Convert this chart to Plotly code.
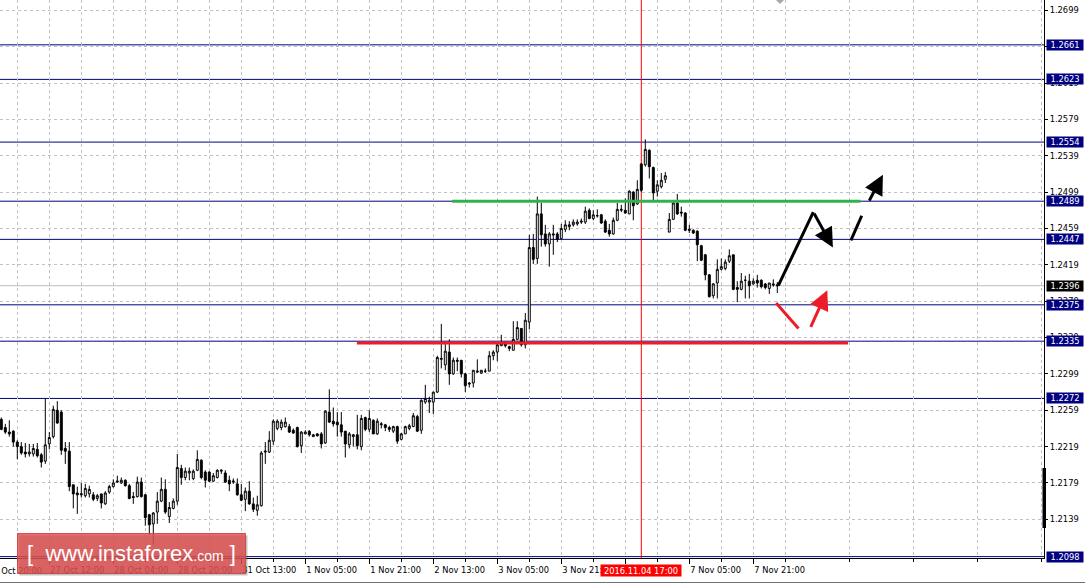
import plotly.graph_objects as go

# ---------------- data (H1 bars) ----------------
OPEN = [1.2249, 1.2240, 1.2235, 1.2236, 1.2224, 1.2219, 1.2213, 1.2211, 1.2211, 1.2216,
        1.2210, 1.2203, 1.2222, 1.2230, 1.2259, 1.2257, 1.2217, 1.2214, 1.2177, 1.2168,
        1.2166, 1.2165, 1.2167, 1.2166, 1.2162, 1.2167, 1.2156, 1.2169, 1.2175, 1.2180,
        1.2179, 1.2182, 1.2176, 1.2164, 1.2164, 1.2180, 1.2166, 1.2144, 1.2134, 1.2147,
        1.2159, 1.2172, 1.2142, 1.2151, 1.2159, 1.2195, 1.2185, 1.2190, 1.2184, 1.2193,
        1.2204, 1.2191, 1.2191, 1.2181, 1.2185, 1.2192, 1.2190, 1.2182, 1.2180, 1.2178,
        1.2166, 1.2161, 1.2170, 1.2156, 1.2149, 1.2154, 1.2213, 1.2213, 1.2225, 1.2239,
        1.2240, 1.2241, 1.2241, 1.2237, 1.2240, 1.2220, 1.2233, 1.2236, 1.2230, 1.2233,
        1.2233, 1.2223, 1.2257, 1.2247, 1.2246, 1.2243, 1.2236, 1.2221, 1.2230, 1.2232,
        1.2219, 1.2251, 1.2238, 1.2248, 1.2233, 1.2243, 1.2243, 1.2240, 1.2236, 1.2241,
        1.2227, 1.2233, 1.2239, 1.2241, 1.2252, 1.2237, 1.2268, 1.2268, 1.2268, 1.2279,
        1.2315, 1.2309, 1.2323, 1.2299, 1.2314, 1.2314, 1.2299, 1.2289, 1.2289, 1.2301,
        1.2300, 1.2302, 1.2302, 1.2319, 1.2323, 1.2330, 1.2333, 1.2329, 1.2325, 1.2337,
        1.2349, 1.2331, 1.2356, 1.2438, 1.2426, 1.2475, 1.2453, 1.2442, 1.2453, 1.2453,
        1.2448, 1.2458, 1.2461, 1.2463, 1.2464, 1.2466, 1.2466, 1.2479, 1.2470, 1.2473,
        1.2474, 1.2467, 1.2457, 1.2453, 1.2468, 1.2479, 1.2479, 1.2475, 1.2499, 1.2486,
        1.2530, 1.2529, 1.2545, 1.2526, 1.2500, 1.2505, 1.2513, 1.2455, 1.2469, 1.2487,
        1.2477, 1.2476, 1.2458, 1.2457, 1.2456, 1.2440, 1.2430, 1.2408, 1.2385, 1.2399,
        1.2414, 1.2415, 1.2423, 1.2430, 1.2394, 1.2392, 1.2402, 1.2401, 1.2398, 1.2402,
        1.2402, 1.2398, 1.2393, 1.2398, 1.2397]
HIGH = [1.2251, 1.2244, 1.2248, 1.2237, 1.2226, 1.2224, 1.2223, 1.2222, 1.2222, 1.2223,
        1.2212, 1.2272, 1.2235, 1.2264, 1.2269, 1.2259, 1.2224, 1.2224, 1.2177, 1.2175,
        1.2179, 1.2178, 1.2176, 1.2169, 1.2167, 1.2167, 1.2170, 1.2177, 1.2183, 1.2187,
        1.2185, 1.2183, 1.2178, 1.2169, 1.2186, 1.2185, 1.2167, 1.2145, 1.2147, 1.2169,
        1.2185, 1.2183, 1.2158, 1.2162, 1.2211, 1.2199, 1.2196, 1.2196, 1.2194, 1.2215,
        1.2205, 1.2193, 1.2192, 1.2190, 1.2194, 1.2194, 1.2193, 1.2187, 1.2184, 1.2184,
        1.2178, 1.2174, 1.2181, 1.2163, 1.2165, 1.2214, 1.2224, 1.2236, 1.2249, 1.2249,
        1.2249, 1.2251, 1.2244, 1.2239, 1.2241, 1.2236, 1.2237, 1.2237, 1.2233, 1.2234,
        1.2235, 1.2259, 1.2282, 1.2262, 1.2257, 1.2257, 1.2236, 1.2235, 1.2233, 1.2254,
        1.2254, 1.2252, 1.2259, 1.2249, 1.2250, 1.2246, 1.2244, 1.2242, 1.2242, 1.2242,
        1.2234, 1.2242, 1.2244, 1.2256, 1.2254, 1.2271, 1.2287, 1.2274, 1.2279, 1.2319,
        1.2354, 1.2333, 1.2337, 1.2317, 1.2317, 1.2314, 1.2300, 1.2290, 1.2303, 1.2315,
        1.2303, 1.2305, 1.2324, 1.2325, 1.2334, 1.2342, 1.2335, 1.2330, 1.2357, 1.2357,
        1.2349, 1.2366, 1.2452, 1.2453, 1.2494, 1.2487, 1.2463, 1.2455, 1.2463, 1.2455,
        1.2464, 1.2468, 1.2467, 1.2469, 1.2469, 1.2470, 1.2483, 1.2481, 1.2479, 1.2480,
        1.2475, 1.2469, 1.2464, 1.2471, 1.2487, 1.2485, 1.2492, 1.2501, 1.2500, 1.2512,
        1.2531, 1.2557, 1.2546, 1.2527, 1.2512, 1.2520, 1.2521, 1.2476, 1.2488, 1.2497,
        1.2483, 1.2477, 1.2463, 1.2458, 1.2457, 1.2441, 1.2431, 1.2409, 1.2399, 1.2425,
        1.2426, 1.2425, 1.2436, 1.2430, 1.2401, 1.2410, 1.2407, 1.2409, 1.2404, 1.2408,
        1.2403, 1.2399, 1.2399, 1.2403, 1.2400]
LOW = [1.2237, 1.2233, 1.2230, 1.2219, 1.2205, 1.2210, 1.2207, 1.2208, 1.2208, 1.2207,
       1.2196, 1.2200, 1.2216, 1.2228, 1.2244, 1.2210, 1.2200, 1.2170, 1.2151, 1.2145,
       1.2163, 1.2163, 1.2163, 1.2159, 1.2159, 1.2151, 1.2155, 1.2167, 1.2174, 1.2179,
       1.2178, 1.2175, 1.2161, 1.2156, 1.2163, 1.2163, 1.2132, 1.2122, 1.2111, 1.2134,
       1.2158, 1.2145, 1.2135, 1.2150, 1.2155, 1.2177, 1.2182, 1.2182, 1.2182, 1.2192,
       1.2183, 1.2174, 1.2180, 1.2180, 1.2184, 1.2189, 1.2179, 1.2170, 1.2178, 1.2165,
       1.2159, 1.2148, 1.2155, 1.2147, 1.2143, 1.2153, 1.2200, 1.2212, 1.2221, 1.2237,
       1.2237, 1.2240, 1.2234, 1.2233, 1.2218, 1.2212, 1.2233, 1.2230, 1.2230, 1.2230,
       1.2217, 1.2222, 1.2245, 1.2241, 1.2230, 1.2230, 1.2207, 1.2217, 1.2219, 1.2216,
       1.2215, 1.2236, 1.2235, 1.2233, 1.2232, 1.2239, 1.2236, 1.2235, 1.2234, 1.2222,
       1.2226, 1.2233, 1.2237, 1.2241, 1.2235, 1.2233, 1.2266, 1.2256, 1.2255, 1.2278,
       1.2305, 1.2303, 1.2287, 1.2298, 1.2302, 1.2295, 1.2279, 1.2284, 1.2284, 1.2300,
       1.2299, 1.2300, 1.2302, 1.2314, 1.2313, 1.2330, 1.2328, 1.2324, 1.2325, 1.2336,
       1.2329, 1.2327, 1.2348, 1.2420, 1.2420, 1.2439, 1.2439, 1.2417, 1.2430, 1.2444,
       1.2447, 1.2455, 1.2457, 1.2461, 1.2462, 1.2464, 1.2464, 1.2469, 1.2468, 1.2471,
       1.2464, 1.2454, 1.2450, 1.2452, 1.2467, 1.2477, 1.2475, 1.2475, 1.2468, 1.2485,
       1.2499, 1.2527, 1.2514, 1.2490, 1.2494, 1.2503, 1.2509, 1.2455, 1.2469, 1.2474,
       1.2472, 1.2456, 1.2454, 1.2453, 1.2423, 1.2423, 1.2402, 1.2383, 1.2382, 1.2382,
       1.2413, 1.2413, 1.2421, 1.2391, 1.2378, 1.2391, 1.2382, 1.2382, 1.2397, 1.2394,
       1.2393, 1.2392, 1.2387, 1.2395, 1.2388]
CLOSE = [1.2238, 1.2235, 1.2233, 1.2224, 1.2219, 1.2212, 1.2211, 1.2213, 1.2217, 1.2209,
         1.2202, 1.2221, 1.2229, 1.2260, 1.2245, 1.2215, 1.2214, 1.2175, 1.2167, 1.2166,
         1.2167, 1.2173, 1.2172, 1.2161, 1.2165, 1.2157, 1.2168, 1.2175, 1.2179, 1.2181,
         1.2182, 1.2176, 1.2162, 1.2163, 1.2180, 1.2164, 1.2141, 1.2133, 1.2146, 1.2159,
         1.2172, 1.2147, 1.2152, 1.2159, 1.2196, 1.2185, 1.2192, 1.2192, 1.2192, 1.2205,
         1.2185, 1.2182, 1.2181, 1.2187, 1.2193, 1.2193, 1.2180, 1.2178, 1.2181, 1.2166,
         1.2160, 1.2170, 1.2156, 1.2150, 1.2155, 1.2212, 1.2214, 1.2226, 1.2247, 1.2247,
         1.2246, 1.2246, 1.2235, 1.2234, 1.2219, 1.2235, 1.2235, 1.2232, 1.2232, 1.2231,
         1.2222, 1.2258, 1.2246, 1.2244, 1.2243, 1.2235, 1.2222, 1.2233, 1.2232, 1.2220,
         1.2250, 1.2238, 1.2250, 1.2233, 1.2247, 1.2244, 1.2240, 1.2238, 1.2241, 1.2225,
         1.2233, 1.2241, 1.2242, 1.2253, 1.2236, 1.2270, 1.2272, 1.2270, 1.2279, 1.2317,
         1.2316, 1.2324, 1.2299, 1.2314, 1.2313, 1.2299, 1.2286, 1.2288, 1.2303, 1.2302,
         1.2303, 1.2302, 1.2319, 1.2323, 1.2331, 1.2332, 1.2330, 1.2327, 1.2337, 1.2350,
         1.2331, 1.2358, 1.2438, 1.2425, 1.2475, 1.2452, 1.2442, 1.2453, 1.2452, 1.2447,
         1.2459, 1.2463, 1.2463, 1.2466, 1.2466, 1.2467, 1.2478, 1.2470, 1.2474, 1.2473,
         1.2465, 1.2455, 1.2453, 1.2468, 1.2480, 1.2480, 1.2476, 1.2500, 1.2484, 1.2502,
         1.2501, 1.2546, 1.2527, 1.2498, 1.2507, 1.2512, 1.2517, 1.2469, 1.2487, 1.2475,
         1.2476, 1.2457, 1.2457, 1.2454, 1.2441, 1.2424, 1.2408, 1.2384, 1.2398, 1.2414,
         1.2417, 1.2422, 1.2429, 1.2392, 1.2392, 1.2401, 1.2402, 1.2396, 1.2401, 1.2399,
         1.2395, 1.2394, 1.2399, 1.2397, 1.2396]
BAR = list(range(len(OPEN)))

# time axis labels (bar index -> label); "4 Nov 13:00" lies under the cursor label
X_TICK_BARS = [12, 28, 44, 60, 76, 92, 108, 124, 140, 156, 172, 188]
X_TICK_TEXT = ["27 Oct 12:00", "28 Oct 04:00", "28 Oct 20:00", "31 Oct 13:00", "1 Nov 05:00",
               "1 Nov 21:00", "2 Nov 13:00", "3 Nov 05:00", "3 Nov 21:00", "",
               "7 Nov 05:00", "7 Nov 21:00"]
X_MINOR_BARS = [4, 20, 36, 52, 68, 84, 100, 116, 132, 148, 164, 180, 196, 212, 228, 244, 260]
X_PARTIAL_BAR, X_PARTIAL_TEXT = -4, "26 Oct 20:00"
CURSOR_BAR, CURSOR_TEXT = 160, "2016.11.04 17:00"

Y_TICK_TEXT = ["1.2699", "1.2659", "1.2619", "1.2579", "1.2539", "1.2499", "1.2459", "1.2419",
               "1.2379", "1.2339", "1.2299", "1.2259", "1.2219", "1.2179", "1.2139"]

LEVELS = [1.2661, 1.2623, 1.2554, 1.2489, 1.2447, 1.2375, 1.2335, 1.2272, 1.2098]
LAST_PRICE = 1.2396

GREEN_LINE = ([112.7, 214.8], [1.2489, 1.2489])
RED_LINE = ([88.9, 211.7], [1.2333, 1.2333])
# scenario arrows: (tail_bar, tail_price, tip_bar, tip_price, has_head)
BLACK_MOVES = [(194.25, 1.2396, 203.0, 1.2477, False),
               (203.0, 1.2477, 207.9, 1.2438, True),
               (212.4, 1.2446, 215.1, 1.2473, False),
               (216.8, 1.2488, 220.4, 1.2518, True)]
RED_MOVES = [(193.7, 1.2377, 199.3, 1.2349, False),
             (202.2, 1.2349, 206.5, 1.2391, True)]

WATERMARK = "[  www.instaforex<span style='font-size:14px'>.com</span> ]"

# ---------------- figure ----------------
W, H = 1085, 584
PW, PH = 1044, 558
X_RANGE = [-0.325, 260.675]
Y_RANGE = [1.209647, 1.271033]
FONT = "DejaVu Sans"
FS = 8.3
NAVY = "#000080"
GRID = "#c0c0c0"
XLAB_Y = -12.5 / PH

fig = go.Figure()
fig.add_trace(go.Candlestick(
    x=BAR, open=OPEN, high=HIGH, low=LOW, close=CLOSE,
    increasing=dict(line=dict(color="black", width=1), fillcolor="white"),
    decreasing=dict(line=dict(color="black", width=1), fillcolor="black"),
    whiskerwidth=0, hoverinfo="skip", showlegend=False))

shapes = []
for lv in LEVELS:
    shapes.append(dict(type="line", xref="paper", yref="y", x0=0, x1=1, y0=lv, y1=lv,
                       line=dict(color=NAVY, width=1), layer="between"))
shapes.append(dict(type="line", xref="paper", yref="y", x0=0, x1=1, y0=LAST_PRICE, y1=LAST_PRICE,
                   line=dict(color="#bdbdbd", width=1), layer="between"))
shapes.append(dict(type="line", xref="x", yref="paper", x0=CURSOR_BAR, x1=CURSOR_BAR, y0=0, y1=1,
                   line=dict(color="#ff0000", width=1), layer="between"))
shapes.append(dict(type="line", xref="x", yref="y", x0=GREEN_LINE[0][0], x1=GREEN_LINE[0][1],
                   y0=GREEN_LINE[1][0], y1=GREEN_LINE[1][1],
                   line=dict(color="#2fb34c", width=3), layer="above"))
shapes.append(dict(type="line", xref="x", yref="y", x0=RED_LINE[0][0], x1=RED_LINE[0][1],
                   y0=RED_LINE[1][0], y1=RED_LINE[1][1],
                   line=dict(color="#ec1c28", width=3), layer="above"))

annotations = []
for moves, col in ((BLACK_MOVES, "black"), (RED_MOVES, "#ec1c28")):
    for tb, tp, hb, hp, head in moves:
        if head:
            annotations.append(dict(x=hb, y=hp, ax=tb, ay=tp, xref="x", yref="y",
                                    axref="x", ayref="y", text="", showarrow=True,
                                    arrowhead=2, arrowsize=1.3, arrowwidth=3,
                                    arrowcolor=col, standoff=0, startstandoff=0))
        else:
            shapes.append(dict(type="line", xref="x", yref="y", x0=tb, x1=hb, y0=tp, y1=hp,
                               line=dict(color=col, width=3), layer="above"))

# price labels on the right axis
for lv in LEVELS + [LAST_PRICE]:
    annotations.append(dict(xref="paper", yref="y", x=1, y=lv, xanchor="left", yanchor="middle",
                            xshift=2, text=f"{lv:.4f}", showarrow=False, width=36, height=10,
                            bgcolor="black" if lv == LAST_PRICE else NAVY, borderpad=0,
                            font=dict(family=FONT, size=FS, color="white")))

# partially visible first time label and cursor time label
annotations.append(dict(xref="paper", yref="paper", x=(1.3 + 4 * X_PARTIAL_BAR) / PW,
                        y=XLAB_Y, xanchor="left", yanchor="middle", text=X_PARTIAL_TEXT,
                        showarrow=False, xshift=1,
                        font=dict(family=FONT, size=FS, color="black")))
annotations.append(dict(xref="x", yref="paper", x=CURSOR_BAR, y=XLAB_Y, xanchor="center",
                        yanchor="middle", text=CURSOR_TEXT, showarrow=False, width=80, height=11,
                        bgcolor="#ff0000", borderpad=0,
                        font=dict(family=FONT, size=FS, color="white")))

# watermark (semi-transparent box drawn over the axis labels)
annotations.append(dict(xref="paper", yref="paper", x=19 / PW, y=(PH - 535) / PH,
                        xanchor="left", yanchor="top", showarrow=False, text="",
                        width=227, height=39, bgcolor="rgba(80,80,80,0.35)", borderpad=0))
annotations.append(dict(xref="paper", yref="paper", x=17 / PW, y=(PH - 533) / PH,
                        xanchor="left", yanchor="top", showarrow=False, text=WATERMARK,
                        width=227, height=39, bgcolor="rgba(222,78,78,0.82)",
                        bordercolor="rgba(205,70,70,0.9)", borderwidth=1, borderpad=0,
                        valign="middle", align="center",
                        font=dict(family="Liberation Sans", size=22, color="white")))

# shift marker at top and price-bar on the axis
shapes.append(dict(type="path", xref="paper", yref="paper",
                   path=f"M {776/PW},1 L {784/PW},1 L {780/PW},{1-4/PH} Z",
                   fillcolor="#a8a8a8", line=dict(width=0), layer="above"))
shapes.append(dict(type="rect", xref="paper", yref="paper", x0=1042.5 / PW, x1=1046 / PW,
                   y0=(PH - 528) / PH, y1=(PH - 468) / PH, fillcolor="black",
                   line=dict(width=0), layer="above"))
shapes.append(dict(type="line", xref="paper", yref="paper", x0=0, x1=W / PW,
                   y0=(PH - 582.5) / PH, y1=(PH - 582.5) / PH,
                   line=dict(color="#707070", width=1), layer="above"))

fig.update_layout(
    width=W, height=H, margin=dict(l=0, r=W - PW, t=0, b=H - PH, autoexpand=False),
    paper_bgcolor="white", plot_bgcolor="white", showlegend=False,
    shapes=shapes, annotations=annotations,
    xaxis=dict(range=X_RANGE, rangeslider=dict(visible=False), tickmode="array",
               tickvals=X_TICK_BARS, ticktext=X_TICK_TEXT, ticks="outside", ticklen=5,
               tickcolor="black", tickwidth=1, ticklabelposition="outside right",
               ticklabelstandoff=4,
               showgrid=True, gridcolor=GRID, griddash="3px,3px", gridwidth=1,
               minor=dict(tickmode="array", tickvals=X_MINOR_BARS, ticks="outside", ticklen=3,
                          tickcolor="black", showgrid=True, gridcolor=GRID, griddash="3px,3px"),
               showline=True, linecolor="black", linewidth=1, zeroline=False,
               tickfont=dict(family=FONT, size=FS, color="black"), fixedrange=True),
    yaxis=dict(range=Y_RANGE, side="right", tickmode="array",
               tickvals=[float(t) for t in Y_TICK_TEXT], ticktext=Y_TICK_TEXT,
               ticks="outside", ticklen=3, tickcolor="black", showgrid=True, gridcolor=GRID,
               griddash="3px,3px", gridwidth=1, showline=True, linecolor="black", linewidth=1,
               zeroline=False, tickfont=dict(family=FONT, size=FS, color="black"),
               fixedrange=True),
)

fig.write_html("out.html", config={"displayModeBar": False},
               post_script="document.body.style.margin='0';document.body.style.overflow='hidden';")
